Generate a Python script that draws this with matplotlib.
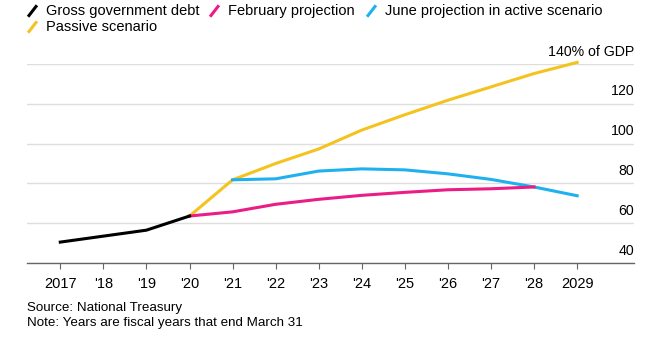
import matplotlib
matplotlib.use('Agg')
import matplotlib.pyplot as plt
import matplotlib.transforms as mtransforms
from matplotlib.lines import Line2D

plt.rcParams['font.family'] = ['Liberation Sans', 'DejaVu Sans']

# Data (% of GDP), fiscal years ending March 31
years = ['2017', "'18", "'19", "'20", "'21", "'22", "'23", "'24", "'25", "'26", "'27", "'28", '2029']
debt_x = [0, 1, 2, 3]
debt = [50.5, 53.5, 56.5, 63.6]
feb_x = [3, 4, 5, 6, 7, 8, 9, 10, 11]
feb = [63.6, 65.7, 69.5, 72.0, 74.0, 75.5, 76.8, 77.3, 78.2]
june_x = [4, 5, 6, 7, 8, 9, 10, 11, 12]
june = [81.8, 82.3, 86.2, 87.3, 86.8, 84.8, 82.0, 78.2, 73.8]
passive_x = [3, 4, 5, 6, 7, 8, 9, 10, 11, 12]
passive = [63.6, 81.8, 90.0, 97.3, 106.8, 114.5, 121.8, 128.5, 135.2, 140.8]
yticks = [40, 60, 80, 100, 120, 140]
ylabels = ['40', '60', '80', '100', '120', '140% of GDP']

colors = {'debt': '#000000', 'feb': '#ec1c87', 'june': '#1fb1ef', 'passive': '#f4c320'}

W, H = 651, 340
fig = plt.figure(figsize=(W / 100, H / 100), dpi=100)
ax = fig.add_axes([27 / W, 1 - 263 / H, (634 - 27) / W, (263 - 64) / H])

lw = 2.2
ax.plot(passive_x, passive, color=colors['passive'], lw=lw, clip_on=False, zorder=3)
ax.plot(june_x, june, color=colors['june'], lw=lw, clip_on=False, zorder=3)
ax.plot(feb_x, feb, color=colors['feb'], lw=lw, clip_on=False, zorder=4)
ax.plot(debt_x, debt, color=colors['debt'], lw=lw, clip_on=False, zorder=5)

ax.set_xlim(-0.773, 13.32)
ax.set_ylim(40, 140)

for s in ['top', 'left', 'right']:
    ax.spines[s].set_visible(False)
ax.spines['bottom'].set_color('#666666')
ax.spines['bottom'].set_linewidth(1.0)

ax.set_yticks(yticks)
ax.set_yticklabels([])
ax.tick_params(axis='y', length=0)
ax.grid(axis='y', color='#dedede', lw=1.0)

ax.set_xticks(range(len(years)))
ax.set_xticklabels(years, fontsize=10.5)
ax.tick_params(axis='x', length=4.3, color='#666666', pad=6)

# y labels above gridlines, right aligned
off = mtransforms.offset_copy(ax.get_yaxis_transform(), fig=fig, x=0, y=6, units='points')
for v, lab in zip(yticks, ylabels):
    ax.text(1.0, v, lab, transform=off, ha='right', va='baseline', fontsize=10.2)

# legend
def legend_item(x, y, color, label):
    fig.add_artist(Line2D([(x - 17) / W, (x - 10) / W], [1 - (y + 4.5) / H, 1 - (y - 4.5) / H],
                          color=color, lw=2.2, transform=fig.transFigure))
    fig.text(x / W, 1 - y / H, label, fontsize=10.5, va='center', ha='left')

legend_item(46, 11, colors['debt'], 'Gross government debt')
legend_item(228, 11, colors['feb'], 'February projection')
legend_item(385, 11, colors['june'], 'June projection in active scenario')
legend_item(46, 27, colors['passive'], 'Passive scenario')

fig.text(27 / W, 1 - 307.5 / H, 'Source: National Treasury', fontsize=9.6, va='center')
fig.text(27 / W, 1 - 322.7 / H, 'Note: Years are fiscal years that end March 31', fontsize=9.6, va='center')

fig.savefig('out.png', dpi=100)
